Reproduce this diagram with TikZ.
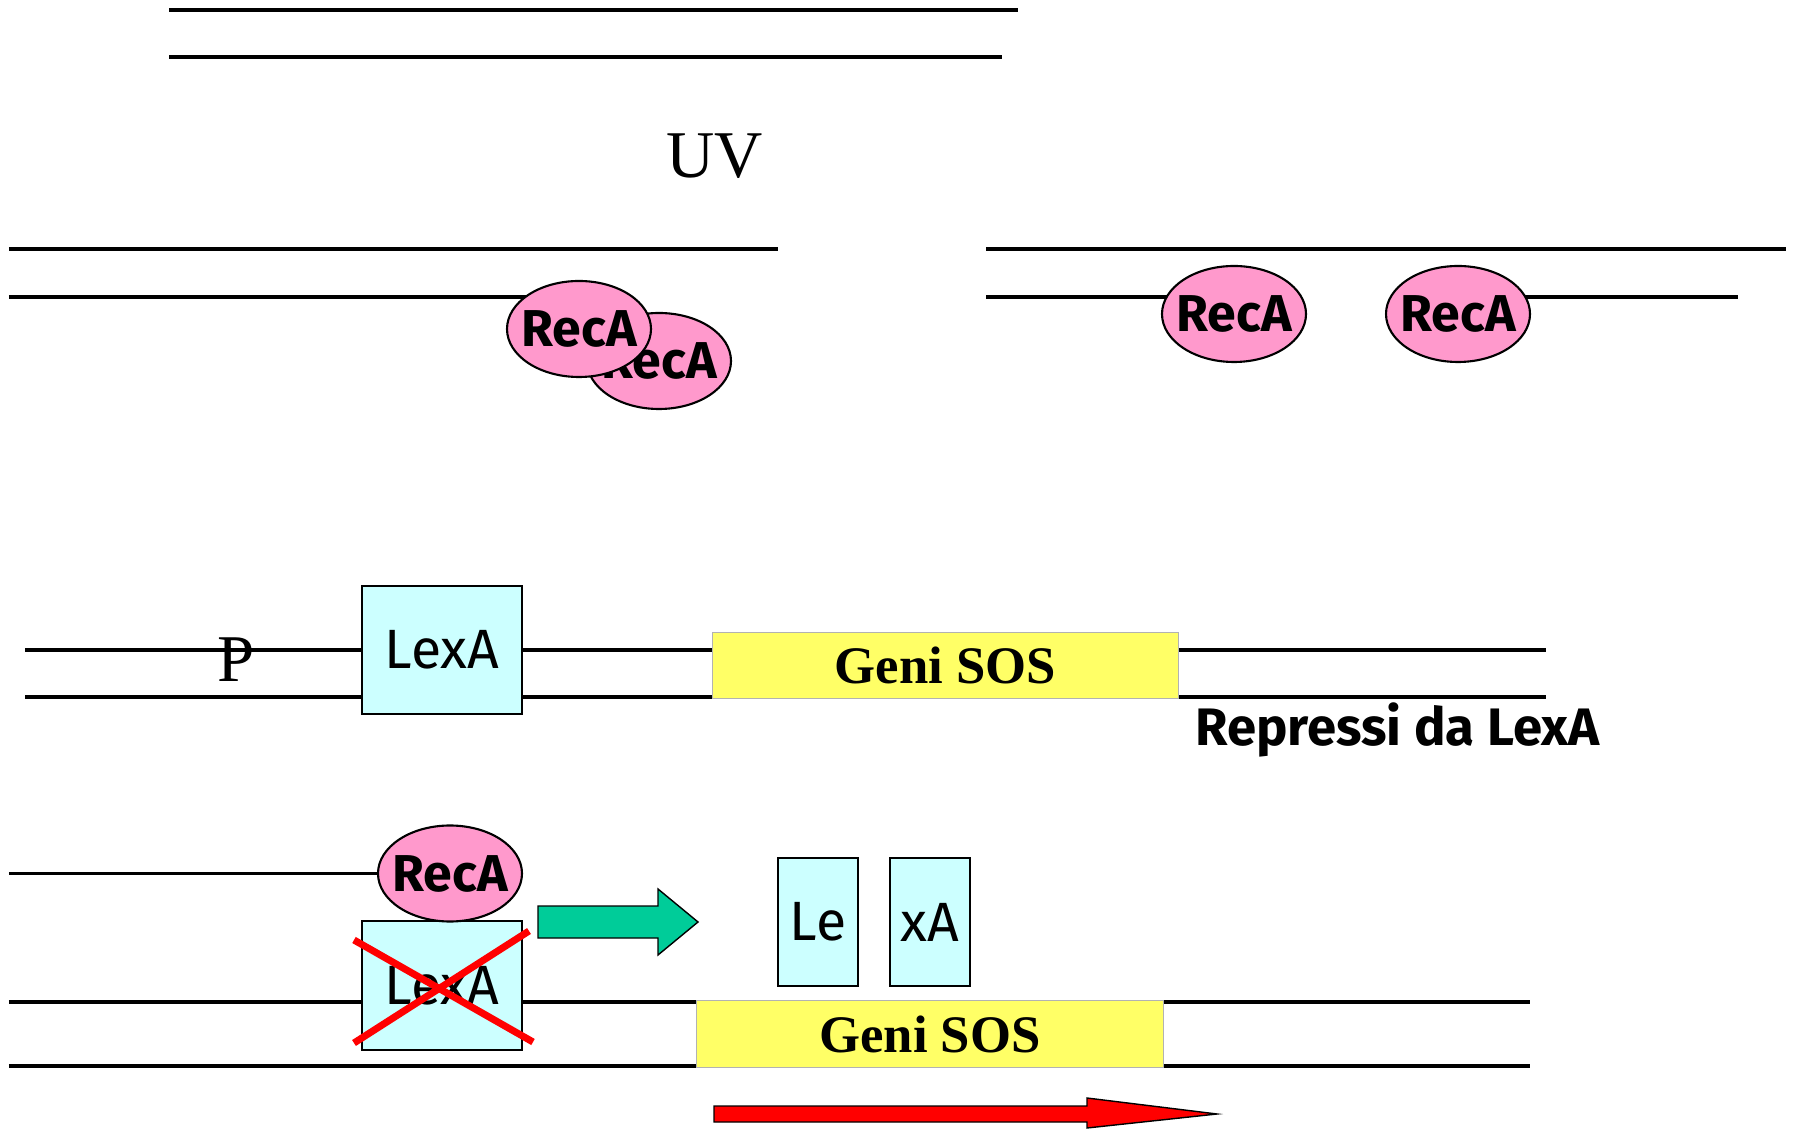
\documentclass[tikz,border=0pt]{standalone}
\usepackage{fontspec}
\setmainfont{Liberation Serif}
\newfontfamily\comicfont{Fira Sans}
\usetikzlibrary{shapes.geometric,backgrounds,calc}
\definecolor{RecPink}  {HTML}{FF99CC}
\definecolor{LexCyan}  {HTML}{CCFFFF}
\definecolor{SosYellow}{HTML}{FFFF66}
\definecolor{GoGreen}  {HTML}{00CC99}
\definecolor{CutRed}   {HTML}{FF0000}
\tikzset{
  strand/.style={line width=2pt,black},
  reca/.style={ellipse,draw=black,line width=1.2pt,fill=RecPink,
               minimum width=2.88cm,minimum height=1.92cm,
               inner xsep=-0.25cm,inner ysep=0pt,
               font=\comicfont\bfseries\fontsize{29.5}{31}\selectfont},
  lexbox/.style={rectangle,draw=black,line width=1.2pt,fill=LexCyan,
                 minimum height=2.56cm,inner sep=0pt,
                 font=\comicfont\fontsize{31.5}{33}\selectfont},
  sosbox/.style={rectangle,draw=gray!60,line width=0.6pt,fill=SosYellow,
                 minimum width=9.33cm,minimum height=1.33cm,inner sep=0pt,
                 font=\bfseries\fontsize{30}{32}\selectfont},
  bigarr/.style={draw=black,line width=0.8pt,line join=miter},
  serlabel/.style={font=\fontsize{38}{40}\selectfont,anchor=base,inner sep=0pt},
}

\begin{document}
\begin{tikzpicture}
  \useasboundingbox (0,0) rectangle (35.86,22.6);

  \node[serlabel] (UV) at (14.3,19.04) {UV};

  \node[reca] (RA1) at (13.18,15.38) {RecA};
  \node[reca] (RA2) at (11.58,16.02) {RecA};
  \node[reca] (RA3) at (24.68,16.32) {RecA};
  \node[reca] (RA4) at (29.16,16.32) {RecA};

  \node[serlabel] (P) at (4.72,8.96) {P};
  \node[lexbox,minimum width=3.2cm] (LX1) at (8.84,9.6) {LexA};
  \node[sosbox] (SOS1) at (18.91,9.29) {Geni SOS};
  \node[font=\comicfont\bfseries\fontsize{30}{32}\selectfont,
        anchor=base west,inner sep=0pt] (REP) at (23.9,7.68) {Repressi da LexA};

  \node[lexbox,minimum width=3.2cm,minimum height=2.58cm] (LX2) at (8.84,2.89) {LexA};
  \node[reca] (RA5) at (9.0,5.13) {RecA};
  \node[lexbox,minimum width=1.6cm] (LE) at (16.36,4.16) {Le};
  \node[lexbox,minimum width=1.6cm] (XA) at (18.6,4.16) {xA};
  \node[sosbox] (SOS2) at (18.6,1.92) {Geni SOS};

  \begin{scope}[on background layer]
    \coordinate (S2) at (19.72,16.66);
    \draw[strand] (3.38,22.4)  -- (20.36,22.4);
    \draw[strand] (3.38,21.46) -- (20.04,21.46);
    \draw[strand] (0.18,17.62) -- (15.56,17.62);
    \draw[strand] (0.18,16.66) -- (11.58,16.66);
    \draw[strand] (19.72,17.62) -- (35.72,17.62);
    \draw[strand] (S2) -- (S2 -| RA3.center);
    \draw[strand] (RA4.center |- S2) -- (34.76,16.66);
    \draw[strand] (0.5,9.6)  -- (30.92,9.6);
    \draw[strand] (0.5,8.66) -- (30.92,8.66);
    \draw[strand] (0.18,5.13) -- (RA5.center);
    \draw[strand] (0.18,2.56) -- (30.6,2.56);
    \draw[strand] (0.18,1.28) -- (30.6,1.28);
  \end{scope}

  \draw[CutRed,line width=4pt] (7.08,3.8)  -- (10.66,1.76);
  \draw[CutRed,line width=4pt] (7.08,1.74) -- (10.58,3.98);

  \draw[bigarr,fill=GoGreen] (10.76,4.48) -- (13.16,4.48) -- (13.16,4.82)
    -- (13.96,4.16) -- (13.16,3.5) -- (13.16,3.84) -- (10.76,3.84) -- cycle;
  \draw[bigarr,fill=CutRed] (14.28,0.48) -- (21.74,0.48) -- (21.74,0.64)
    -- (24.34,0.32) -- (21.74,0.04) -- (21.74,0.16) -- (14.28,0.16) -- cycle;

\end{tikzpicture}
\end{document}
